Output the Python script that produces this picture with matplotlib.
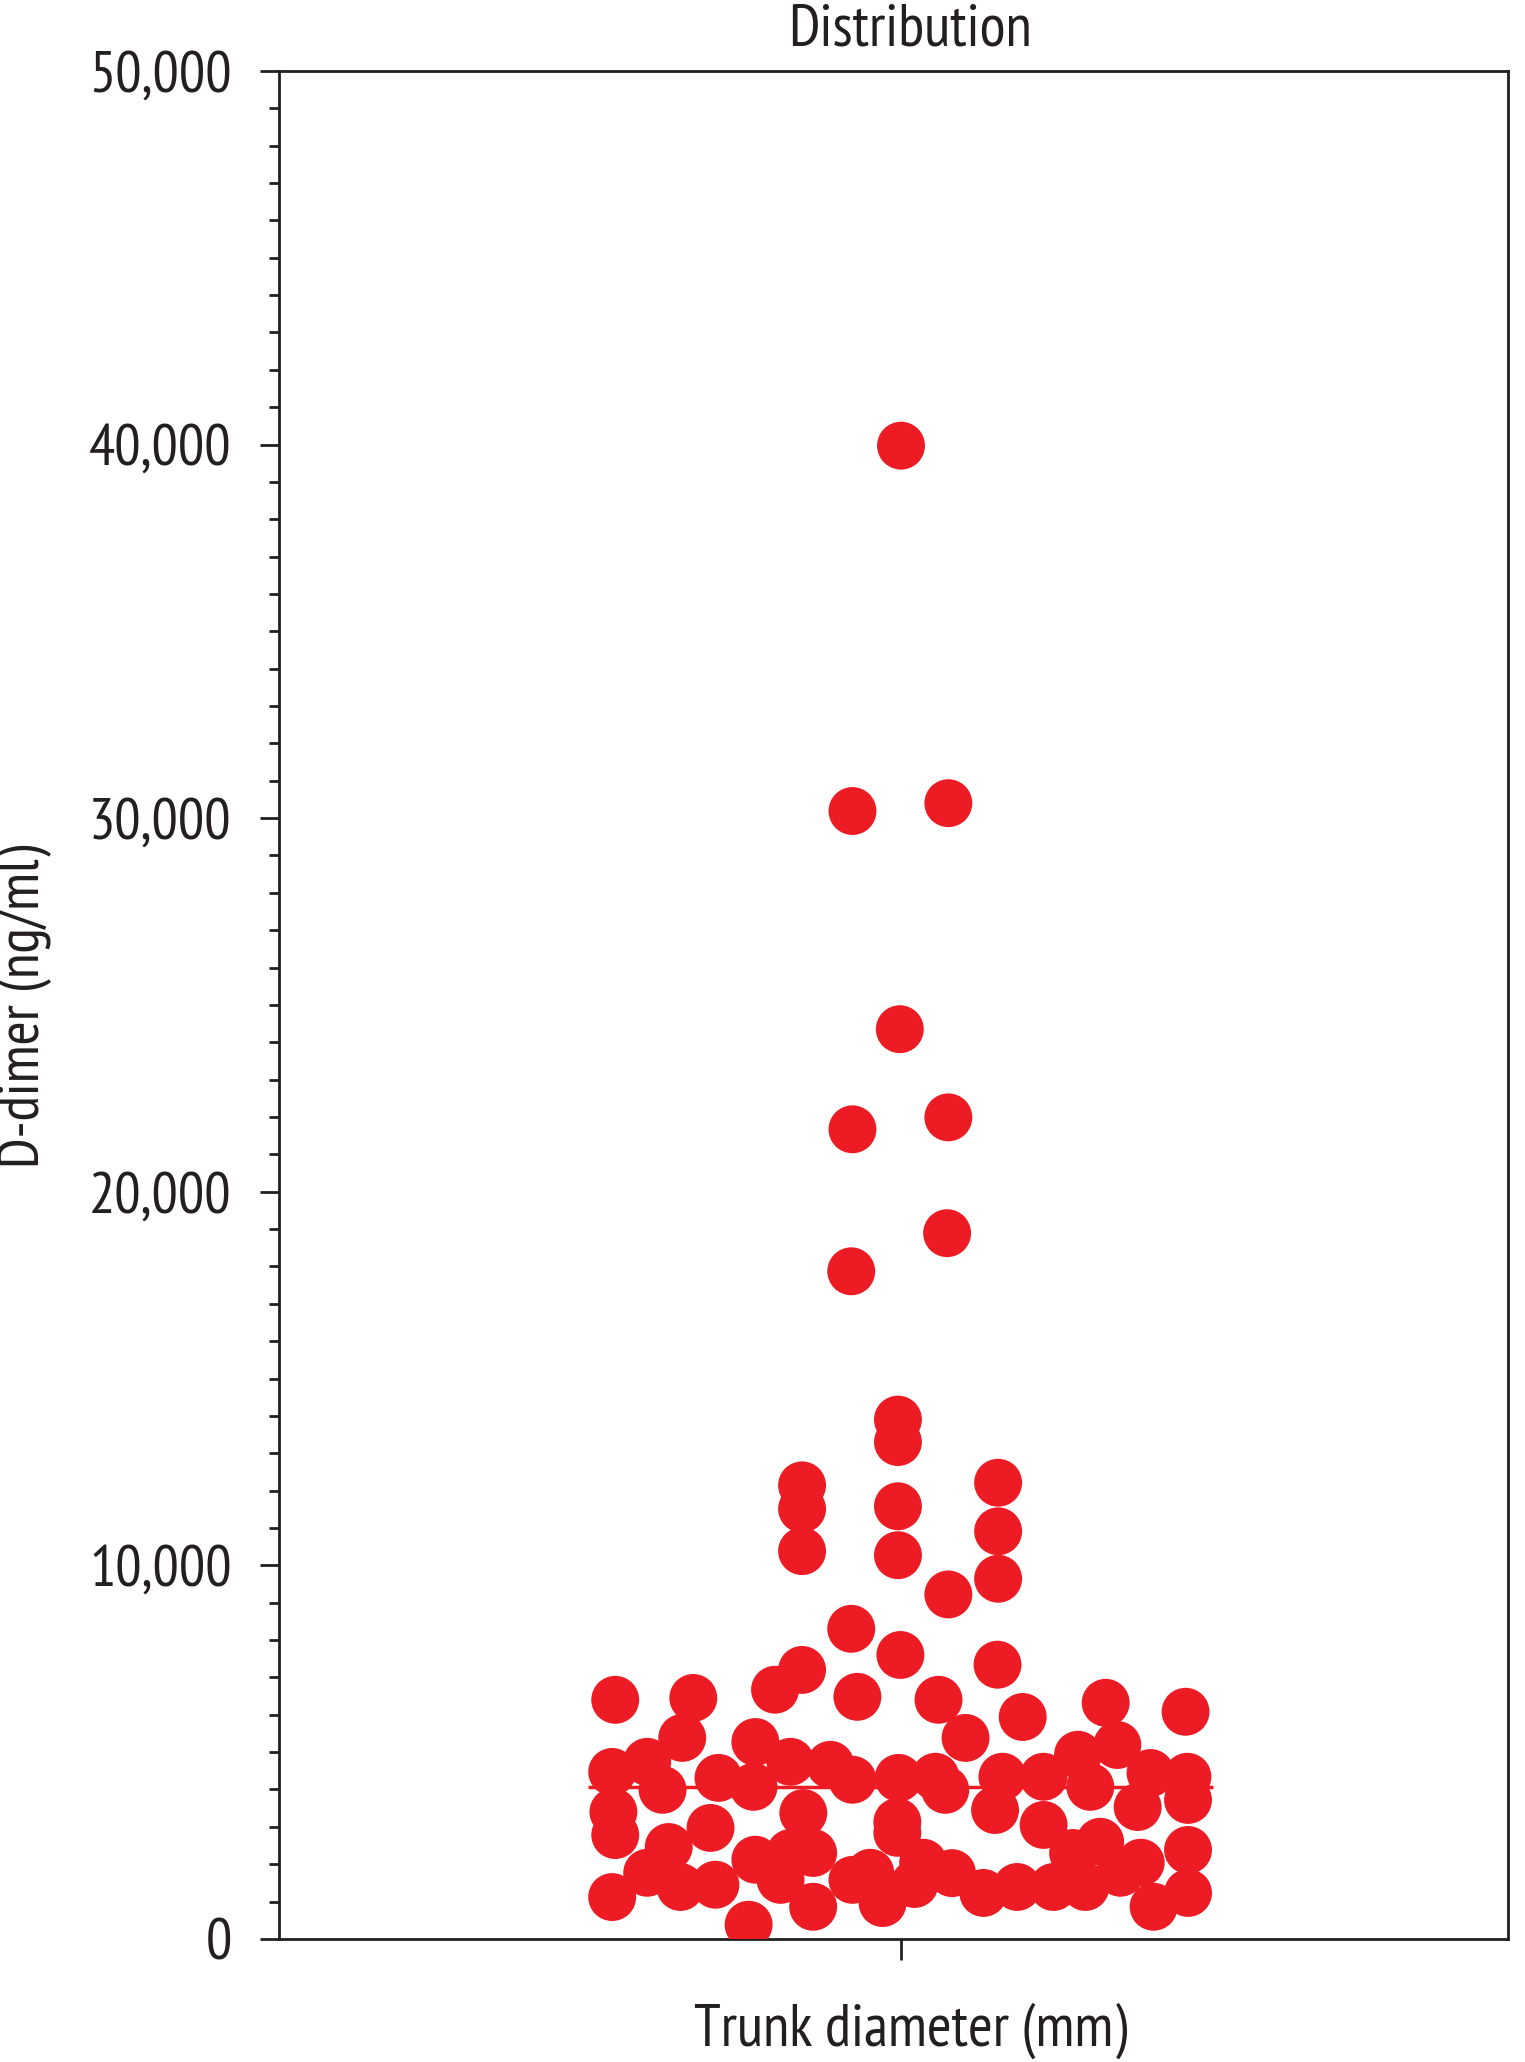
import matplotlib
matplotlib.use('Agg')
import matplotlib.pyplot as plt
from matplotlib.ticker import MultipleLocator, FuncFormatter

plt.rcParams['font.family'] = ['PT Sans Narrow', 'Fira Sans Condensed', 'Roboto Condensed',
                               'Open Sans Condensed', 'DejaVu Sans']

# horizontal offsets of the swarm (axis runs -1..1) and D-dimer values (ng/ml)
x_offset = [
    0.012, -0.067, 0.089, 0.010, -0.067, 0.089, -0.069, 0.087, 0.007, 0.007,
    -0.149, -0.149, -0.149, 0.007, 0.007, 0.170, 0.170, 0.170, 0.089, -0.069,
    -0.453, -0.326, -0.344, -0.401, -0.458, -0.376, -0.285, -0.225, -0.168, -0.228,
    -0.103, -0.067, 0.008, 0.068, 0.084, -0.456, -0.453, -0.147, 0.006, 0.006,
    -0.298, -0.366, -0.401, -0.347, -0.290, -0.225, -0.168, -0.131, -0.184, -0.131,
    -0.067, -0.038, -0.018, 0.048, 0.034, 0.095, -0.458, -0.236, -0.193, -0.149,
    -0.059, 0.011, 0.073, 0.117,
    0.169, 0.210, 0.345, 0.475, 0.364, 0.300, 0.177, 0.244, 0.320, 0.418,
    0.478, 0.165, 0.244, 0.397, 0.479, 0.336, 0.479, 0.146, 0.201, 0.260,
    0.312, 0.369, 0.423, 0.479, 0.292, 0.402,
]
d_dimer = [
    39970, 30190, 30400, 24350, 21670, 21990, 17870, 18890, 13900, 13300,
    12140, 11510, 10380, 11580, 10270, 12210, 10910, 9640, 9220, 8300,
    6400, 6450, 5380, 4740, 4470, 3990, 4310, 5270, 4740, 4070,
    4660, 4260, 4310, 4340, 3990, 3400, 2780, 3370, 3130, 2840,
    2970, 2460, 1770, 1390, 1450, 2120, 2300, 2300, 1580, 860,
    1580, 1770, 960, 2040, 1470, 1760, 1120, 380, 6670, 7200,
    6480, 7600, 6400, 5380,
    7340, 5940, 6320, 6080, 5190, 4930, 4340, 4340, 4070, 4440,
    4340, 3450, 3050, 3530, 3720, 2600, 2380, 1230, 1390, 1390,
    1390, 1770, 860, 1230, 2300, 2040,
]
median_value = 4070
median_span = (-0.498, 0.520)
group_tick = 0.012

red = '#ED1C24'
ink = '#231f20'

fig = plt.figure(figsize=(15.25, 20.62), dpi=100)
ax = fig.add_axes([0.183, 0.0597, 0.806, 0.9059])

ax.hlines(median_value, median_span[0], median_span[1], color=red, linewidth=2.5, zorder=2)
ax.scatter(x_offset, d_dimer, s=1190, color=red, edgecolors='none', zorder=3)

ax.set_xlim(-1, 1)
ax.set_ylim(0, 50000)

ax.yaxis.set_major_locator(MultipleLocator(10000))
ax.yaxis.set_minor_locator(MultipleLocator(1000))
ax.yaxis.set_major_formatter(FuncFormatter(lambda v, p: f'{int(v):,}'))
ax.set_xticks([group_tick])
ax.set_xticklabels([''])

ax.tick_params(axis='y', which='major', length=14, width=2, labelsize=42, pad=20, colors=ink)
ax.tick_params(axis='y', which='minor', length=7, width=2, colors=ink)
ax.tick_params(axis='x', which='major', length=15, width=2, colors=ink)

for s in ax.spines.values():
    s.set_linewidth(2)
    s.set_color(ink)

# titles placed on the figure
fig.text(0.597, 0.9777, 'Distribution', ha='center', va='baseline', fontsize=43, color=ink)
fig.text(0.597, 0.015, 'Trunk diameter (mm)', ha='center', va='center', fontsize=43, color=ink)
fig.text(0.016, 0.512, 'D-dimer (ng/ml)', ha='center', va='center', rotation=90, fontsize=42, color=ink)

fig.savefig('out.png', dpi=100)
